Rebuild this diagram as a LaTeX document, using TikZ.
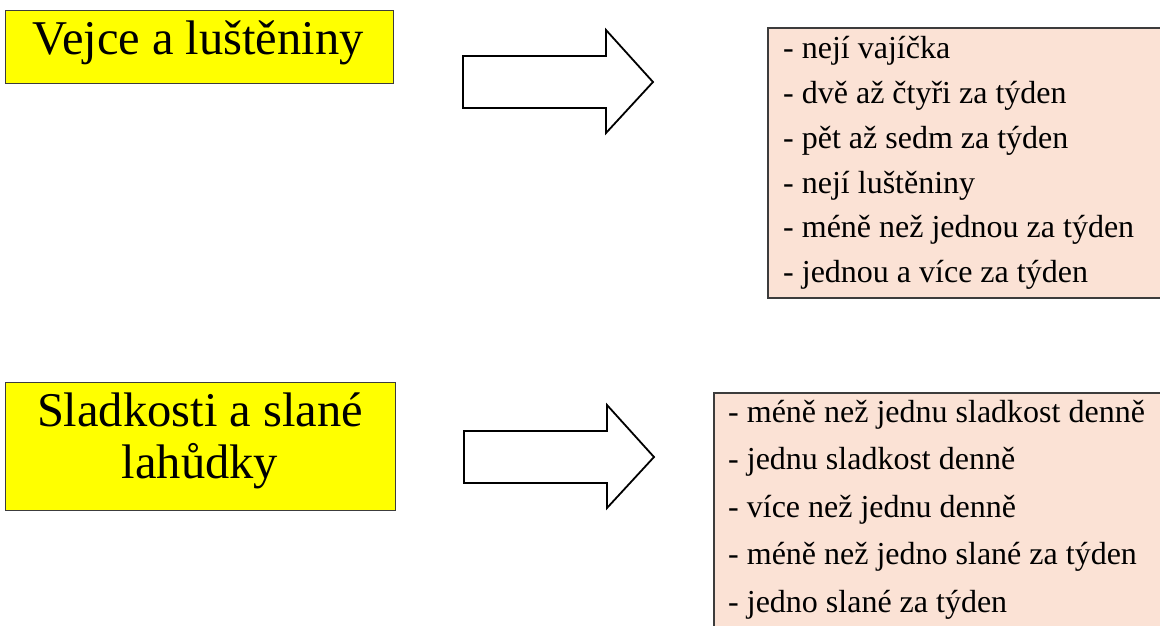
\documentclass[tikz,border=0pt]{standalone}
\usepackage{fontspec}
\setmainfont{Liberation Serif}
\definecolor{titleyellow}{RGB}{255,255,0}
\definecolor{listpink}{RGB}{251,226,213}
\definecolor{boxborder}{RGB}{60,60,60}
\tikzset{
  titlebox/.style={draw=boxborder, line width=1pt, fill=titleyellow},
  listbox/.style={draw=boxborder, line width=1.2pt, fill=listpink},
  titletext/.style={anchor=base, inner sep=0pt, font=\fontsize{48.5}{52}\selectfont},
  itemtext/.style={anchor=base west, inner sep=0pt, font=\fontsize{32}{40}\selectfont},
  bigarrow/.style={draw=black, line width=1.8pt, fill=white, line join=miter}
}
\begin{document}
\begin{tikzpicture}[x=1pt,y=-1pt]
\useasboundingbox (0,0) rectangle (1160,625);
\clip (0,0) rectangle (1160,625);
% ---- top row ----
\draw[titlebox] (5,10) rectangle (393,83);
\node[titletext] (t1) at (198,54) {Vejce a luštěniny};
\draw[bigarrow] (463,56) -- (606,56) -- (606,30) -- (653,82) -- (606,133) -- (606,108) -- (463,108) -- cycle;
\draw[listbox] (768,28) rectangle (1180,298);
\node[itemtext] (a1) at (783,58) {- nejí vajíčka};
\node[itemtext] (a2) at (783,103) {- dvě až čtyři za týden};
\node[itemtext] (a3) at (783,148) {- pět až sedm za týden};
\node[itemtext] (a4) at (783,193) {- nejí luštěniny};
\node[itemtext] (a5) at (783,237) {- méně než jednou za týden};
\node[itemtext] (a6) at (783,282) {- jednou a více za týden};
% ---- bottom row ----
\draw[titlebox] (5,382) rectangle (395,510);
\node[titletext] (t2a) at (200,426) {Sladkosti a slané};
\node[titletext] (t2b) at (200,478) {lahůdky};
\draw[bigarrow] (464,431) -- (607,431) -- (607,405) -- (654,457) -- (607,508) -- (607,483) -- (464,483) -- cycle;
\draw[listbox] (714,393) rectangle (1180,640);
\node[itemtext] (b1) at (728,422) {- méně než jednu sladkost denně};
\node[itemtext] (b2) at (728,469.5) {- jednu sladkost denně};
\node[itemtext] (b3) at (728,517) {- více než jednu denně};
\node[itemtext] (b4) at (728,564.5) {- méně než jedno slané za týden};
\node[itemtext] (b5) at (728,612) {- jedno slané za týden};
\end{tikzpicture}
\end{document}
